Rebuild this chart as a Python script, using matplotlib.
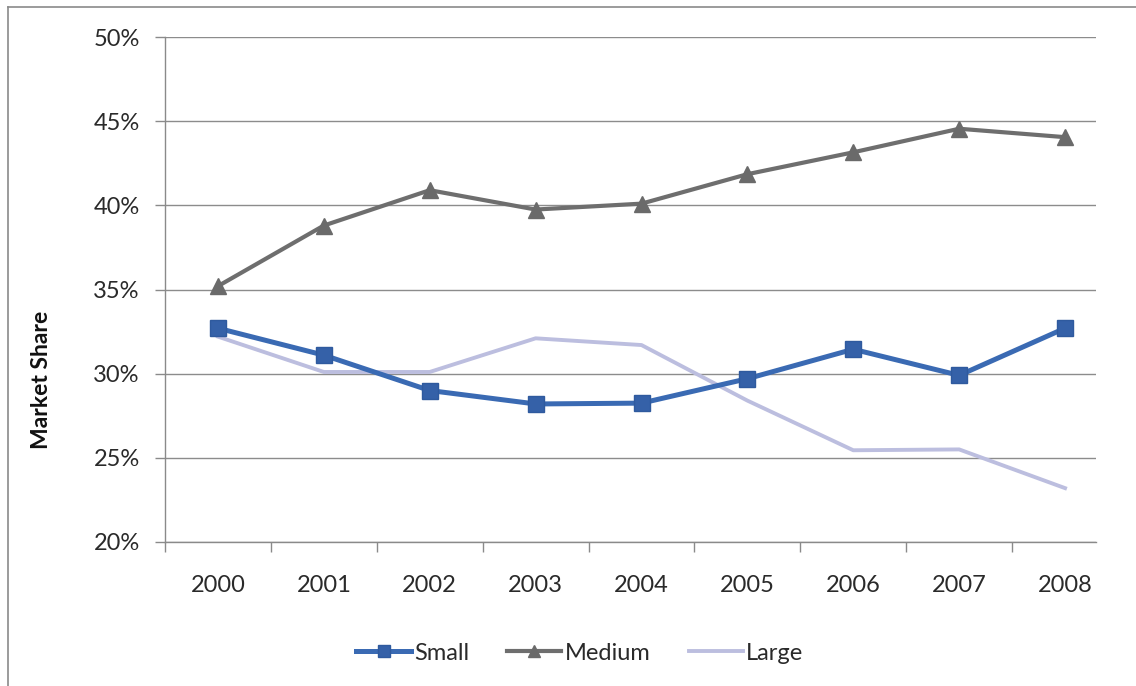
import matplotlib
matplotlib.use("Agg")
import matplotlib.pyplot as plt
from matplotlib.ticker import FixedLocator, FuncFormatter
from matplotlib.lines import Line2D

years = ["2000", "2001", "2002", "2003", "2004", "2005", "2006", "2007", "2008"]
small = [32.7, 31.1, 29.0, 28.2, 28.25, 29.7, 31.45, 29.9, 32.7]
medium = [35.2, 38.8, 40.9, 39.75, 40.1, 41.85, 43.15, 44.55, 44.05]
large = [32.2, 30.1, 30.1, 32.1, 31.7, 28.4, 25.45, 25.5, 23.2]
yticks = [20, 25, 30, 35, 40, 45, 50]

plt.rcParams['font.family'] = ['Lato', 'DejaVu Sans']

W, H = 1136, 686
fig = plt.figure(figsize=(W / 100, H / 100), dpi=100)
fig.patch.set_facecolor("white")

# outer chart frame (cropped at right/bottom)
fig.add_artist(Line2D([8 / W, 8 / W], [0, 1 - 7 / H], transform=fig.transFigure,
                      color="#8a8a8a", lw=1.2))
fig.add_artist(Line2D([8 / W, 1], [1 - 7 / H, 1 - 7 / H], transform=fig.transFigure,
                      color="#8a8a8a", lw=1.2))

left, right, bottom, top = 165, 1096, 542, 37
ax = fig.add_axes([left / W, 1 - bottom / H, (right - left) / W, (bottom - top) / H])

x = list(range(len(years)))
ax.plot(x, large, color="#bcbedf", lw=2.8, zorder=3, label="Large")
ax.plot(x, small, color="#3a6ab3", lw=3.6, marker="s", markersize=11,
        markerfacecolor="#3561a8", markeredgecolor="#2f5a9e", markeredgewidth=1,
        zorder=4, label="Small")
ax.plot(x, medium, color="#6e6e6e", lw=3.0, marker="^", markersize=11,
        markerfacecolor="#6a6a6a", markeredgecolor="#6a6a6a", zorder=5, label="Medium")

span = 9 * (right - left) / (1118 - left)
ax.set_xlim(-0.5, -0.5 + span)
ax.set_ylim(20, 50)

ax.set_yticks(yticks)
ax.yaxis.set_major_formatter(FuncFormatter(lambda v, p: f"{int(v)}%"))
ax.tick_params(axis="y", length=7.2, width=1, color="#8a8a8a", pad=11,
               labelsize=17, labelcolor="#2a2a2a")
ax.grid(axis="y", color="#8c8c8c", lw=1)
ax.set_axisbelow(True)

ax.set_xticks(x)
ax.set_xticklabels(years)
ax.xaxis.set_minor_locator(FixedLocator([i - 0.5 for i in range(len(years))]))
ax.tick_params(axis="x", which="major", length=0, pad=24, labelsize=17,
               labelcolor="#2a2a2a")
ax.tick_params(axis="x", which="minor", length=7, width=1, color="#8a8a8a")

for s in ["top", "right"]:
    ax.spines[s].set_visible(False)
for s in ["left", "bottom"]:
    ax.spines[s].set_color("#8a8a8a")
    ax.spines[s].set_linewidth(1)

fig.text(41 / W, 1 - 380 / H, "Market Share", rotation=90, ha="center", va="center",
         fontsize=16.5, fontweight="bold", color="#111111")

handles, labels = ax.get_legend_handles_labels()
order = [1, 2, 0]
fig.legend([handles[i] for i in order], [labels[i] for i in order],
           loc="center", bbox_to_anchor=(580 / W, 1 - 653 / H), ncol=3,
           frameon=False, fontsize=17, handlelength=2.3, handletextpad=0.15,
           columnspacing=1.6, labelcolor="#2a2a2a", markerscale=0.85)

fig.savefig("out.png", dpi=100, facecolor="white")
